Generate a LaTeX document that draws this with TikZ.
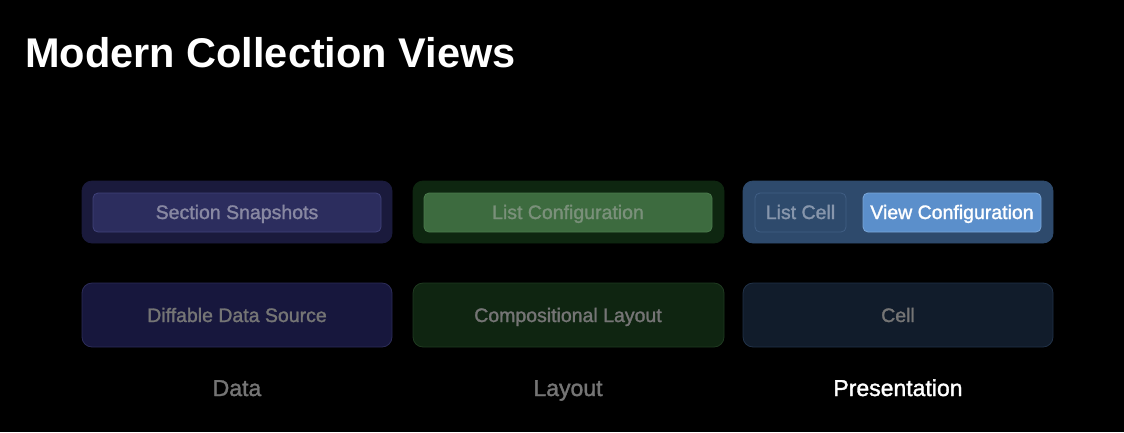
\documentclass[tikz,border=0pt]{standalone}
\usepackage{fontspec}
\setmainfont{Liberation Sans}
\newfontfamily\medfont[FakeBold=1.5]{Liberation Sans}
\begin{document}
\begin{tikzpicture}[x=1pt,y=-1pt,
  outerbox/.style={rounded corners=10pt,line width=0.8pt},
  innerbox/.style={rounded corners=5pt,line width=0.8pt},
  boxtext/.style={font=\medfont\fontsize{19.5}{22}\selectfont,text=#1,anchor=base,inner sep=0pt},
  collabel/.style={font=\medfont\fontsize{23}{26}\selectfont,text=#1,anchor=base,inner sep=0pt}
]
\definecolor{dOut}{HTML}{1A1A3C}
\definecolor{dIn}{HTML}{2C2D5E}
\definecolor{dInB}{HTML}{40427A}
\definecolor{dBot}{HTML}{17173D}
\definecolor{dBotB}{HTML}{2C2C58}
\definecolor{lOut}{HTML}{0E2610}
\definecolor{lIn}{HTML}{3D6B3F}
\definecolor{lInB}{HTML}{4A7A4C}
\definecolor{lBot}{HTML}{0F2511}
\definecolor{lBotB}{HTML}{1F3A20}
\definecolor{pOut}{HTML}{2E4A6C}
\definecolor{pLc}{HTML}{2E4A6C}
\definecolor{pLcB}{HTML}{405E84}
\definecolor{pVc}{HTML}{5B8FCB}
\definecolor{pVcB}{HTML}{7AA6D8}
\definecolor{pBot}{HTML}{111C2B}
\definecolor{pBotB}{HTML}{213248}
\definecolor{dimtext}{HTML}{757575}
\definecolor{dtext}{HTML}{8888A2}
\definecolor{ltext}{HTML}{7A907A}
\definecolor{lctext}{HTML}{8796AC}
\fill[black] (0,0) rectangle (1124,432);
\useasboundingbox (0,0) rectangle (1124,432);
\node[anchor=base west,inner sep=0pt,font=\fontsize{41.5}{46}\bfseries\selectfont,text=white] (title) at (25,67) {Modern Collection Views};
% Data
\draw[outerbox,fill=dOut,draw=dOut] (82,181) rectangle (392,243);
\draw[innerbox,fill=dIn,draw=dInB] (93,193) rectangle (381,232);
\node[boxtext=dtext] (snap) at (237,219) {Section Snapshots};
\draw[outerbox,fill=dBot,draw=dBotB] (82,283) rectangle (392,347);
\node[boxtext=dimtext] (dds) at (237,322) {Diffable Data Source};
\node[collabel=dimtext] (data) at (237,396) {Data};
% Layout
\draw[outerbox,fill=lOut,draw=lOut] (413,181) rectangle (724,243);
\draw[innerbox,fill=lIn,draw=lInB] (424,193) rectangle (712,232);
\node[boxtext=ltext] (listconf) at (568,219) {List Configuration};
\draw[outerbox,fill=lBot,draw=lBotB] (413,283) rectangle (724,347);
\node[boxtext=dimtext] (comp) at (568,322) {Compositional Layout};
\node[collabel=dimtext] (layout) at (568,396) {Layout};
% Presentation
\draw[outerbox,fill=pOut,draw=pOut] (743,181) rectangle (1053,243);
\draw[innerbox,fill=pLc,draw=pLcB] (755,193) rectangle (846,232);
\node[boxtext=lctext] (listcell) at (800.5,219) {List Cell};
\draw[innerbox,fill=pVc,draw=pVcB] (863,193) rectangle (1041,232);
\node[boxtext=white] (viewconf) at (952,219) {View Configuration};
\draw[outerbox,fill=pBot,draw=pBotB] (743,283) rectangle (1053,347);
\node[boxtext=dimtext] (cell) at (898,322) {Cell};
\node[collabel=white] (pres) at (898,396) {Presentation};
\end{tikzpicture}
\end{document}
